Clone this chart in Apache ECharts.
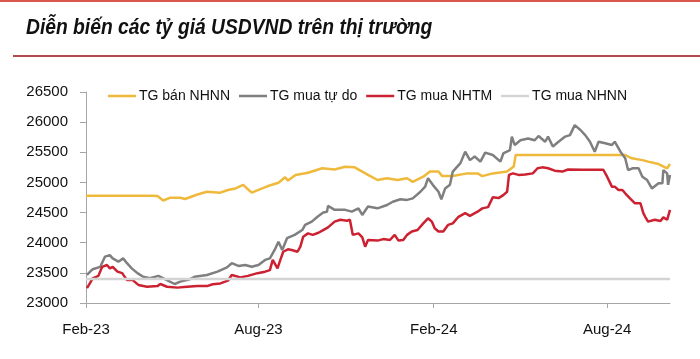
<!DOCTYPE html>
<html><head><meta charset="utf-8">
<script src="https://cdn.jsdelivr.net/npm/echarts@6/dist/echarts.min.js"></script>
<style>html,body{margin:0;padding:0;background:#fff}#c{width:700px;height:359px}</style>
</head><body><div id="c"></div>
<script>
const titleText = 'Diễn biến các tỷ giá USDVND trên thị trường';
const seriesNames = ['TG bán NHNN', 'TG mua tự do', 'TG mua NHTM', 'TG mua NHNN'];
const seriesColors = ['#efb93c', '#7f7f7f', '#cc2131', '#d4d4d4'];

const xTickDates = ['2023-02-01', '2023-08-01', '2024-02-01', '2024-08-01'];
const xTickLabels = ['Feb-23', 'Aug-23', 'Feb-24', 'Aug-24'];
const startDate = '2023-02-01';
const endDate = '2024-10-06';
const yMin = 23000, yMax = 26500, yStep = 500;

const sellSbvDates = ['2023-02-01','2023-04-12','2023-04-17','2023-04-23','2023-04-30','2023-05-11','2023-05-16','2023-05-29','2023-06-08','2023-06-22','2023-06-30','2023-07-08','2023-07-16','2023-07-20','2023-07-25','2023-08-01','2023-08-11','2023-08-22','2023-08-29','2023-09-01','2023-09-09','2023-09-22','2023-10-07','2023-10-20','2023-10-31','2023-11-10','2023-11-18','2023-11-24','2023-12-04','2023-12-14','2023-12-25','2024-01-04','2024-01-10','2024-01-21','2024-01-28','2024-02-06','2024-02-10','2024-02-21','2024-03-07','2024-03-18','2024-03-23','2024-04-03','2024-04-18','2024-04-25','2024-04-27','2024-08-20','2024-08-27','2024-09-07','2024-09-13','2024-09-24','2024-10-03','2024-10-06'];
const sellSbvValues = [24780,24780,24775,24700,24745,24745,24725,24800,24845,24830,24875,24900,24960,24900,24830,24875,24940,24995,25085,25030,25125,25160,25235,25215,25260,25250,25180,25125,25040,25070,25040,25070,25010,25095,25180,25180,25105,25105,25150,25150,25105,25150,25180,25265,25455,25455,25400,25370,25345,25305,25235,25305];

const buyFreeDates = ['2023-02-02','2023-02-08','2023-02-16','2023-02-21','2023-02-26','2023-03-01','2023-03-07','2023-03-12','2023-03-16','2023-03-21','2023-03-27','2023-04-02','2023-04-09','2023-04-18','2023-04-27','2023-05-05','2023-05-11','2023-05-21','2023-05-26','2023-06-08','2023-06-19','2023-06-29','2023-07-04','2023-07-11','2023-07-18','2023-07-25','2023-08-01','2023-08-08','2023-08-13','2023-08-18','2023-08-22','2023-08-26','2023-08-31','2023-09-08','2023-09-16','2023-09-19','2023-09-26','2023-10-02','2023-10-08','2023-10-12','2023-10-13','2023-10-20','2023-10-31','2023-11-07','2023-11-14','2023-11-18','2023-11-24','2023-12-04','2023-12-14','2023-12-20','2023-12-28','2024-01-04','2024-01-10','2024-01-18','2024-01-23','2024-01-26','2024-01-31','2024-02-06','2024-02-09','2024-02-13','2024-02-18','2024-02-21','2024-02-29','2024-03-05','2024-03-10','2024-03-15','2024-03-21','2024-03-26','2024-04-03','2024-04-11','2024-04-14','2024-04-21','2024-04-23','2024-04-26','2024-05-02','2024-05-10','2024-05-17','2024-05-21','2024-05-28','2024-05-31','2024-06-05','2024-06-11','2024-06-18','2024-06-23','2024-06-28','2024-07-04','2024-07-09','2024-07-14','2024-07-19','2024-07-23','2024-07-30','2024-08-06','2024-08-09','2024-08-15','2024-08-20','2024-08-23','2024-08-28','2024-09-03','2024-09-07','2024-09-12','2024-09-17','2024-09-24','2024-09-28','2024-09-29','2024-10-03','2024-10-04','2024-10-06'];
const buyFreeValues = [23465,23560,23600,23770,23795,23740,23685,23740,23660,23575,23495,23435,23410,23450,23380,23315,23355,23395,23435,23465,23520,23590,23660,23615,23630,23600,23630,23715,23740,23880,24015,23880,24075,24130,24210,24295,24350,24430,24500,24515,24610,24545,24545,24515,24570,24460,24600,24570,24625,24680,24720,24710,24735,24845,24930,25070,24960,24845,24720,24900,24960,25180,25320,25510,25370,25430,25345,25495,25455,25345,25480,25535,25760,25620,25700,25730,25700,25770,25675,25760,25595,25675,25760,25785,25950,25870,25785,25675,25510,25675,25650,25620,25675,25510,25400,25205,25235,25235,25095,25040,24900,24985,24985,25205,25150,24960,25125];

const buyBankDates = ['2023-02-02','2023-02-05','2023-02-08','2023-02-14','2023-02-18','2023-02-23','2023-02-26','2023-03-01','2023-03-06','2023-03-11','2023-03-16','2023-03-22','2023-03-28','2023-04-06','2023-04-17','2023-04-20','2023-04-27','2023-05-08','2023-05-18','2023-05-29','2023-06-08','2023-06-14','2023-06-22','2023-06-30','2023-07-04','2023-07-13','2023-07-21','2023-07-31','2023-08-08','2023-08-13','2023-08-16','2023-08-21','2023-08-24','2023-08-27','2023-09-01','2023-09-05','2023-09-11','2023-09-14','2023-09-17','2023-09-22','2023-09-27','2023-10-03','2023-10-08','2023-10-13','2023-10-20','2023-10-26','2023-11-02','2023-11-05','2023-11-08','2023-11-14','2023-11-18','2023-11-21','2023-11-24','2023-12-04','2023-12-10','2023-12-17','2023-12-22','2023-12-26','2023-12-31','2024-01-04','2024-01-09','2024-01-15','2024-01-21','2024-01-26','2024-01-30','2024-02-02','2024-02-06','2024-02-11','2024-02-16','2024-02-21','2024-02-27','2024-03-05','2024-03-10','2024-03-18','2024-03-23','2024-03-29','2024-04-03','2024-04-09','2024-04-14','2024-04-18','2024-04-20','2024-04-24','2024-04-30','2024-05-07','2024-05-15','2024-05-20','2024-05-25','2024-05-31','2024-06-07','2024-06-15','2024-06-21','2024-07-06','2024-07-19','2024-07-28','2024-08-01','2024-08-06','2024-08-09','2024-08-13','2024-08-17','2024-08-20','2024-08-25','2024-08-30','2024-09-05','2024-09-08','2024-09-10','2024-09-13','2024-09-20','2024-09-26','2024-09-29','2024-10-03','2024-10-06'];
const buyBankValues = [23245,23325,23410,23450,23600,23630,23575,23600,23520,23495,23380,23380,23300,23270,23280,23315,23270,23255,23270,23280,23280,23310,23325,23370,23465,23425,23450,23495,23520,23545,23715,23575,23715,23850,23890,23880,23850,23935,24100,24155,24130,24165,24210,24255,24350,24380,24365,24380,24130,24155,24090,23935,24045,24035,24060,24045,24130,24035,24045,24130,24185,24210,24320,24405,24350,24240,24185,24185,24295,24320,24430,24490,24445,24515,24570,24590,24755,24740,24790,24845,25125,25150,25125,25130,25150,25235,25250,25235,25195,25180,25215,25210,25210,25210,25095,24930,24930,24875,24875,24820,24735,24655,24655,24490,24430,24350,24380,24360,24420,24380,24545];

const buySbvDates = ['2023-02-01', '2024-10-06'];
const buySbvValues = [23400, 23400];

const DAY = 86400000;
function dayIndex(s) { return Math.round((Date.parse(s) - Date.parse(startDate)) / DAY); }
function pairs(dates, vals) { return dates.map((d, i) => [dayIndex(d), vals[i]]); }

const allData = [
  pairs(sellSbvDates, sellSbvValues),
  pairs(buyFreeDates, buyFreeValues),
  pairs(buyBankDates, buyBankValues),
  pairs(buySbvDates, buySbvValues)
];
const tickVals = xTickDates.map(dayIndex);
const FONT = "'Liberation Sans', Arial, sans-serif";

const chart = echarts.init(document.getElementById('c'), null, { renderer: 'canvas' });
chart.setOption({
  animation: false,
  backgroundColor: '#ffffff',
  graphic: [
    { type: 'rect', shape: { x: 0, y: 0, width: 700, height: 2 }, style: { fill: '#d9574a' } },
    { type: 'rect', shape: { x: 13, y: 55, width: 687, height: 2 }, style: { fill: '#b24a4c' } },
    { type: 'text', x: 26, y: 17, scaleX: 0.875, style: { text: titleText, fill: '#111', font: "italic bold 22px 'Liberation Sans', Arial, sans-serif" } }
  ],
  legend: {
    left: 103, top: 84, itemWidth: 28, itemHeight: 14, itemGap: 9,
    icon: 'path://M0,6 L28,6 L28,8.5 L0,8.5 Z',
    data: seriesNames,
    textStyle: { fontFamily: FONT, fontSize: 14, color: '#111', padding: [0, 0, 0, -2] }
  },
  grid: { left: 86, right: 30, top: 92, bottom: 56 },
  xAxis: {
    type: 'value', min: 0, max: dayIndex(endDate),
    axisLine: { onZero: false, lineStyle: { color: '#a6a6a6', width: 1 } },
    axisTick: { show: true, length: 5, lineStyle: { color: '#a6a6a6' }, customValues: tickVals },
    axisLabel: {
      customValues: tickVals, margin: 19, fontFamily: FONT, fontSize: 15, color: '#111',
      formatter: function (v) { const i = tickVals.indexOf(Math.round(v)); return i >= 0 ? xTickLabels[i] : ''; }
    },
    splitLine: { show: false }
  },
  yAxis: {
    type: 'value', min: yMin, max: yMax, interval: yStep,
    axisLine: { show: true, onZero: false, lineStyle: { color: '#a6a6a6', width: 1 } },
    axisTick: { show: true, length: 6, lineStyle: { color: '#a6a6a6' } },
    axisLabel: { margin: 18, fontFamily: FONT, fontSize: 15, color: '#111', formatter: function (v) { return String(v); } },
    splitLine: { show: false }
  },
  series: seriesNames.map((name, i) => ({
    name: name, type: 'line', data: allData[i], symbol: 'none', smooth: false,
    lineStyle: { color: seriesColors[i], width: 2.5 }, itemStyle: { color: seriesColors[i] },
    z: 2 + i
  }))
});
</script>
</body></html>
